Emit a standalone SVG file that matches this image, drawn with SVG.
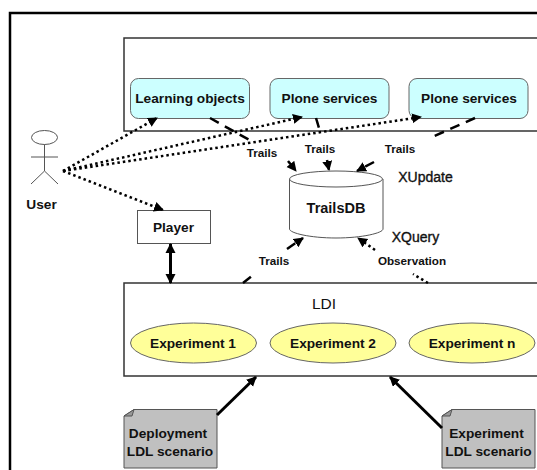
<svg xmlns="http://www.w3.org/2000/svg" width="537" height="470" viewBox="0 0 537 470">
<style>
text{font-family:"Liberation Sans",Arial,sans-serif;font-weight:bold;font-size:13.7px;fill:#111;text-anchor:middle}
.sm{font-size:11.7px}
.thin{font-weight:normal;font-size:15.500px}
.reg{font-weight:normal;font-size:14px;stroke:#111;stroke-width:.35}
.frame{fill:#fff;stroke:#333;stroke-width:1.5}
.svc{fill:#ccffff;stroke:#666;stroke-width:1}
.exp{fill:#ffff99;stroke:#666;stroke-width:1}
.doc{fill:#c0c0c0;stroke:#555;stroke-width:1}
.line{fill:none;stroke:#555;stroke-width:1}
.dot{fill:none;stroke:#000;stroke-width:2.5;stroke-dasharray:2.5 3}
.dash{fill:none;stroke:#000;stroke-width:2.5;stroke-dasharray:10 7}
.solid{fill:none;stroke:#000;stroke-width:3}
</style>
<defs>
<marker id="a" markerUnits="userSpaceOnUse" markerWidth="12" markerHeight="12" refX="9" refY="5" orient="auto"><path d="M0 0L10 5L0 10Z" fill="#000"/></marker>
<marker id="as" markerUnits="userSpaceOnUse" markerWidth="12" markerHeight="12" refX="1" refY="5" orient="auto"><path d="M10 0L0 5L10 10Z" fill="#000"/></marker>
</defs>
<rect width="537" height="470" fill="#fff"/>
<path d="M10 470V13H537" fill="none" stroke="#000" stroke-width="2.5"/>
<g id="top-frame"><path class="frame" d="M537 38H124V131H537"/></g>
<g id="ldi"><path class="frame" d="M537 283H124V376H537"/><text class="thin" x="324" y="309">LDI</text></g>
<g id="learning-objects"><rect class="svc" x="130.500" y="78.500" width="119" height="40" rx="8"/><text x="190" y="103">Learning objects</text></g>
<g id="plone-1"><rect class="svc" x="270" y="78.500" width="119" height="40" rx="8"/><text x="329.500" y="103">Plone services</text></g>
<g id="plone-2"><rect class="svc" x="409" y="78.500" width="119" height="40" rx="8"/><text x="469" y="103">Plone services</text></g>
<g id="trailsdb"><path d="M289.500 179V229C289.500 233 310 238 336 238S383 233 383 229V179" fill="#fff" stroke="#555"/><ellipse cx="336" cy="179" rx="46.500" ry="8" fill="#fff" stroke="#555"/><text x="336" y="213" style="font-size:14.500px">TrailsDB</text></g>
<g id="user"><ellipse class="line" cx="44.500" cy="137.500" rx="13" ry="7"/><path class="line" d="M44.500 144.500V171M31 157H58M31 184L44.500 171L58 184"/><text x="41.500" y="209">User</text></g>
<g id="player"><rect x="137.500" y="210.500" width="73" height="33" fill="#fff" stroke="#555"/><text x="173.500" y="232">Player</text></g>
<g id="exp-1"><ellipse class="exp" cx="193.500" cy="343" rx="63" ry="20"/><text x="193" y="348">Experiment 1</text></g>
<g id="exp-2"><ellipse class="exp" cx="333" cy="343" rx="63" ry="20"/><text x="333" y="348">Experiment 2</text></g>
<g id="exp-n"><ellipse class="exp" cx="472" cy="343" rx="63" ry="20"/><text x="472" y="348">Experiment n</text></g>
<g id="doc-deployment"><path class="doc" d="M134 409.500H217V468H124V416Z"/><path d="M124 416L134 409.500L132 416Z" fill="#999" stroke="#555"/><text x="168" y="438">Deployment</text><text x="170" y="456">LDL scenario</text></g>
<g id="doc-experiment"><path class="doc" d="M452 409.500H535V468H442V416Z"/><path d="M442 416L452 409.500L450 416Z" fill="#999" stroke="#555"/><text x="486.500" y="438">Experiment</text><text x="488.500" y="456">LDL scenario</text></g>
<g id="connectors">
<path class="dot" d="M63 171L157 118" marker-end="url(#a)"/>
<path class="dot" d="M63 171L302 117" marker-end="url(#a)"/>
<path class="dot" d="M63 171L421 117" marker-end="url(#a)"/>
<path class="dot" d="M63 171L163 210" marker-end="url(#a)"/>
<path class="dash" d="M210 118L253 142"/>
<path class="dash" d="M288 161L296 171" marker-end="url(#a)"/>
<path class="dash" d="M316 118L319 128"/>
<path class="dash" d="M327 160L329 170" marker-end="url(#a)"/>
<path class="dash" d="M475 118L432 137"/>
<path class="dash" d="M374 162L357 171" marker-end="url(#a)"/>
<path class="dash" d="M243 283L252 276"/>
<path class="dash" d="M287 249L303 238" marker-end="url(#a)"/>
<path class="dot" d="M428 283L413 274"/>
<path class="dot" d="M375 250L358 238" marker-end="url(#a)"/>
<path class="solid" d="M170.500 244V283" marker-start="url(#as)" marker-end="url(#a)"/>
<path class="solid" d="M217 415L256 377" marker-end="url(#a)"/>
<path class="solid" d="M442 428L390 377" marker-end="url(#a)"/>
</g>
<g id="labels">
<text class="sm" x="262" y="157">Trails</text>
<text class="sm" x="320" y="153">Trails</text>
<text class="sm" x="400" y="153">Trails</text>
<text class="sm" x="274" y="265">Trails</text>
<text class="sm" x="412" y="265">Observation</text>
<text class="reg" x="425.500" y="182">XUpdate</text>
<text class="reg" x="415.500" y="242">XQuery</text>
</g>
</svg>
